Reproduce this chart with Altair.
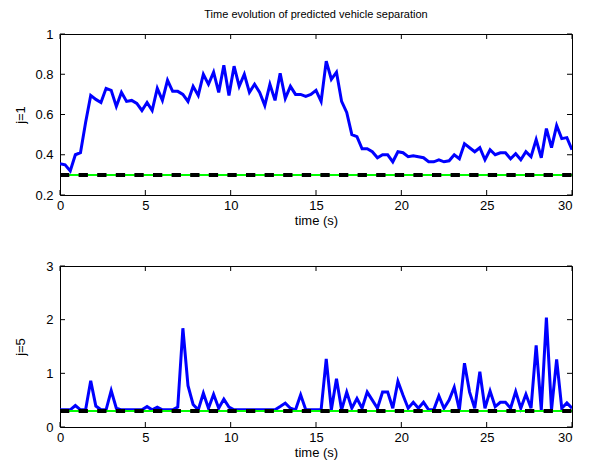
import altair as alt
import pandas as pd

# sampling grid (s)
time_s = [round(0.3 * i, 1) for i in range(101)]

# predicted separation, j=1
sep_j1 = [
    0.355, 0.35, 0.32, 0.40, 0.41, 0.56, 0.695, 0.675, 0.66, 0.73,
    0.72, 0.64, 0.71, 0.665, 0.67, 0.655, 0.62, 0.66, 0.62, 0.73,
    0.67, 0.77, 0.715, 0.715, 0.70, 0.665, 0.74, 0.695, 0.80, 0.75,
    0.81, 0.71, 0.845, 0.695, 0.84, 0.74, 0.80, 0.71, 0.75, 0.71,
    0.645, 0.75, 0.67, 0.805, 0.68, 0.74, 0.70, 0.70, 0.69, 0.70,
    0.72,
    0.665, 0.865, 0.775, 0.81, 0.665, 0.61, 0.50, 0.49, 0.43, 0.43,
    0.415, 0.385, 0.40, 0.40, 0.365, 0.415, 0.41, 0.39, 0.395, 0.39,
    0.385, 0.365, 0.365, 0.375, 0.365, 0.37, 0.40, 0.38, 0.455, 0.435,
    0.415, 0.435, 0.375, 0.425, 0.40, 0.41, 0.41, 0.38, 0.405, 0.375,
    0.415, 0.39, 0.475, 0.385, 0.53, 0.435, 0.545, 0.48, 0.485, 0.425,
]

# predicted separation, j=5
sep_j5 = [
    0.32, 0.32, 0.32, 0.40, 0.32, 0.32, 0.86, 0.39, 0.32, 0.32,
    0.68, 0.35, 0.32, 0.32, 0.32, 0.32, 0.32, 0.38, 0.32, 0.37,
    0.32, 0.32, 0.32, 0.37, 1.84, 0.77, 0.42, 0.32, 0.63, 0.35,
    0.61, 0.35, 0.52, 0.37, 0.32, 0.32, 0.32, 0.32, 0.32, 0.32,
    0.32, 0.32, 0.32, 0.38, 0.445, 0.35, 0.32, 0.60, 0.32, 0.32,
    0.32, 0.32, 1.27, 0.32, 0.90, 0.32, 0.65, 0.35, 0.53, 0.35,
    0.65, 0.50, 0.35, 0.65, 0.65, 0.35, 0.85, 0.59, 0.35, 0.46,
    0.35, 0.46, 0.32, 0.32, 0.58, 0.35, 0.50, 0.74, 0.32, 1.19,
    0.65, 0.35, 1.03, 0.35, 0.67, 0.38, 0.46, 0.46, 0.35, 0.66,
    0.35, 0.61, 0.35, 1.52, 0.32, 2.04, 0.32, 1.26, 0.35, 0.45,
    0.35,
]

min_sep = 0.3
x_ticks = [0, 5, 10, 15, 20, 25, 30]
y_ticks_j1 = [0.2, 0.4, 0.6, 0.8, 1.0]
y_ticks_j5 = [0, 1, 2, 3]

W, H = 512, 161
FONT = "Liberation Sans"
FS = 13


def panel(vals, ytitle, ydomain, yticks, title=None):
    df = pd.DataFrame({"t": time_s, "v": vals})
    ref = pd.DataFrame({"t": [0, 30], "v": [min_sep, min_sep]})
    xt = pd.DataFrame({"t": x_ticks})
    yt = pd.DataFrame({"v": yticks})

    xs = alt.Scale(domain=[0, 30], nice=False, zero=False)
    ys = alt.Scale(domain=ydomain, nice=False, zero=False)
    xax = alt.Axis(values=x_ticks, title="time (s)", grid=False, domain=False,
                   tickSize=0, labelPadding=4, titlePadding=2, format="~g",
                   labelOverlap=False,
                   labelAlign={"condition": {"test": "datum.value == 30", "value": "right"},
                               "value": "center"})
    yax = alt.Axis(values=yticks, title=ytitle, grid=False, domain=False,
                   tickSize=0, labelPadding=7, format="~g", labelOverlap=False,
                   titleX=-33, titleY=H / 2)

    X = alt.X("t:Q", scale=xs, axis=xax)
    Y = alt.Y("v:Q", scale=ys, axis=yax)

    line = alt.Chart(df).mark_line(color="#0000ff", strokeWidth=3, clip=True).encode(x=X, y=Y)
    green = alt.Chart(ref).mark_line(color="#00ff00", strokeWidth=2).encode(x=X, y=Y)
    black = alt.Chart(ref).mark_line(color="black", strokeWidth=4,
                                     strokeDash=[9.3, 9.3], strokeCap="butt").encode(x=X, y=Y)

    tb = alt.Chart(xt).mark_rule(color="black", strokeWidth=1).encode(
        x=alt.X("t:Q", scale=xs), y=alt.value(H), y2=alt.value(H - 5))
    tt = alt.Chart(xt).mark_rule(color="black", strokeWidth=1).encode(
        x=alt.X("t:Q", scale=xs), y=alt.value(0), y2=alt.value(5))
    tl = alt.Chart(yt).mark_rule(color="black", strokeWidth=1).encode(
        y=alt.Y("v:Q", scale=ys), x=alt.value(0), x2=alt.value(5))
    tr = alt.Chart(yt).mark_rule(color="black", strokeWidth=1).encode(
        y=alt.Y("v:Q", scale=ys), x=alt.value(W), x2=alt.value(W - 5))

    ch = alt.layer(line, green, black, tb, tt, tl, tr).properties(width=W, height=H)
    if title:
        ch = ch.properties(title=alt.TitleParams(title, fontSize=11, font=FONT,
                                                 fontWeight="normal", anchor="middle",
                                                 offset=8, color="black"))
    return ch


top = panel(sep_j1, "j=1", [0.2, 1.0], y_ticks_j1,
            title="Time evolution of predicted vehicle separation")
bottom = panel(sep_j5, "j=5", [0, 3], y_ticks_j5)

chart = alt.vconcat(top, bottom, spacing=31).properties(
    padding={"left": 5, "top": 0, "right": 0, "bottom": 0},
    background="white",
).configure_view(
    stroke="black", strokeWidth=1
).configure_axis(
    labelFont=FONT, titleFont=FONT, labelFontSize=FS, titleFontSize=FS,
    labelColor="black", titleColor="black", titleFontWeight="normal",
)

chart.save("out.html", embed_options={"renderer": "svg", "actions": False})
